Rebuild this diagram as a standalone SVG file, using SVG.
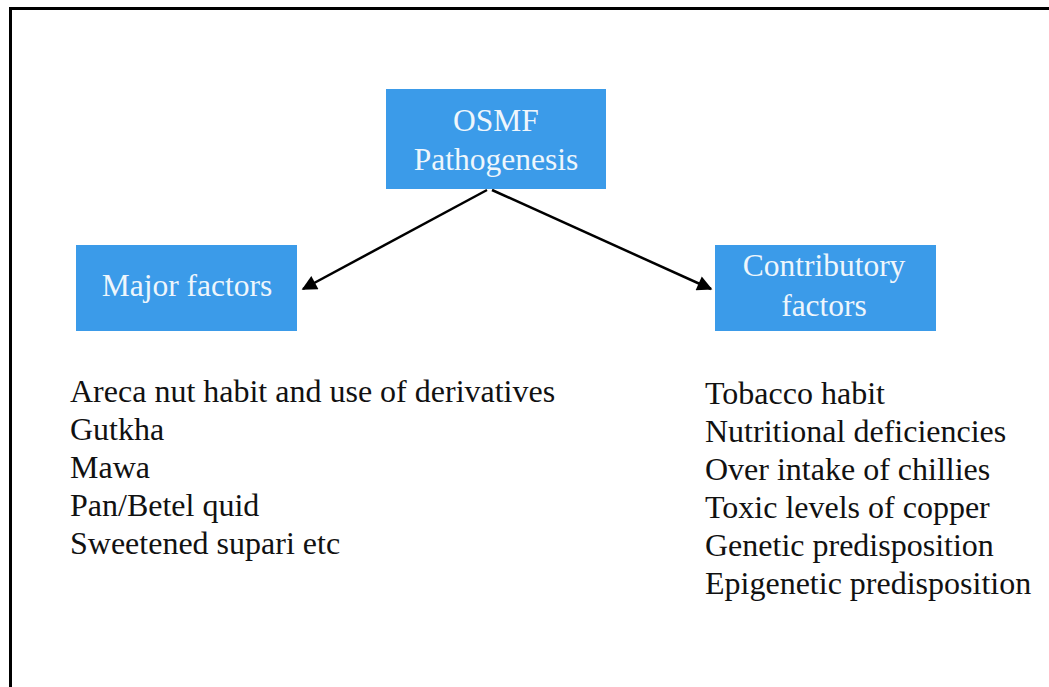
<svg xmlns="http://www.w3.org/2000/svg" width="1049" height="687" viewBox="0 0 1049 687">
<style>
.box{fill:#3b9be9;}
.bt{font-family:"Liberation Serif","Times New Roman",serif;font-size:31.5px;fill:#eef6fc;text-anchor:middle;}
.lt{font-family:"Liberation Serif","Times New Roman",serif;font-size:32px;fill:#111;}
.conn{stroke:#000;stroke-width:2.5;fill:none;}
</style>
<defs>
<marker id="arr" viewBox="0 0 10 10" refX="9" refY="5" markerWidth="6.5" markerHeight="6" markerUnits="strokeWidth" orient="auto">
<path d="M0,0 L10,5 L0,10 z" fill="#000"/>
</marker>
</defs>
<rect width="1049" height="687" fill="#fff"/>
<path d="M10.5,700 V8.5 H1060" stroke="#000" stroke-width="3" fill="none"/>
<g id="connectors">
<line class="conn" x1="487" y1="190" x2="303" y2="289" marker-end="url(#arr)"/>
<line class="conn" x1="492" y1="190" x2="711" y2="289" marker-end="url(#arr)"/>
</g>
<g id="osmf">
<rect class="box" x="386" y="89" width="220" height="100"/>
<text class="bt" x="496" y="131">OSMF</text>
<text class="bt" x="496" y="170">Pathogenesis</text>
</g>
<g id="major">
<rect class="box" x="76" y="245" width="221" height="86"/>
<text class="bt" x="187" y="296">Major factors</text>
</g>
<g id="contrib">
<rect class="box" x="715" y="245" width="221" height="86"/>
<text class="bt" x="824" y="276">Contributory</text>
<text class="bt" x="824" y="316">factors</text>
</g>
<g id="major-list">
<text class="lt" x="70" y="402">Areca nut habit and use of derivatives</text>
<text class="lt" x="70" y="440">Gutkha</text>
<text class="lt" x="70" y="478">Mawa</text>
<text class="lt" x="70" y="516">Pan/Betel quid</text>
<text class="lt" x="70" y="554">Sweetened supari etc</text>
</g>
<g id="contrib-list">
<text class="lt" x="705" y="404">Tobacco habit</text>
<text class="lt" x="705" y="442">Nutritional deficiencies</text>
<text class="lt" x="705" y="480">Over intake of chillies</text>
<text class="lt" x="705" y="518">Toxic levels of copper</text>
<text class="lt" x="705" y="556">Genetic predisposition</text>
<text class="lt" x="705" y="594">Epigenetic predisposition</text>
</g>
</svg>
